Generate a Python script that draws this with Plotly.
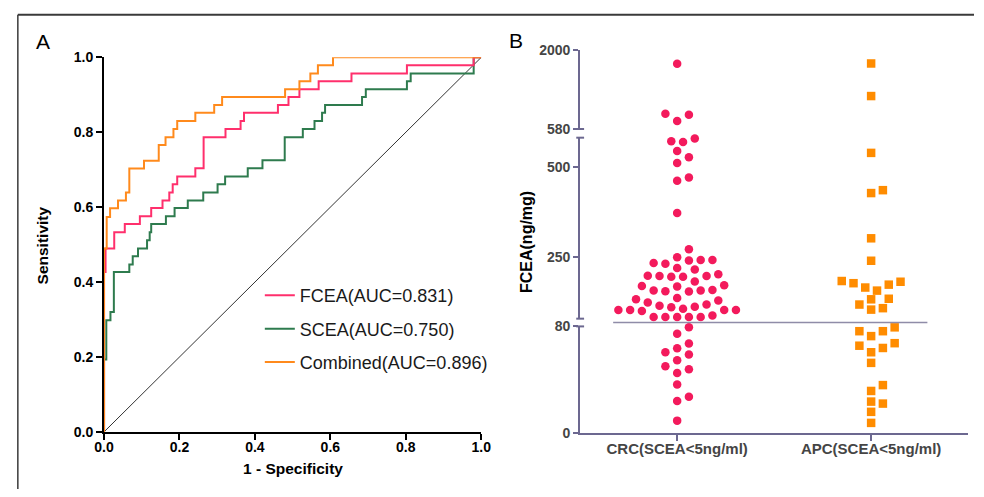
import plotly.graph_objects as go

W, H = 984, 497
FONT = "Liberation Sans, Arial, sans-serif"

# ---------------- data: panel A (ROC step vertices) ----------------
fcea_fpr = [0, 0.004, 0.027, 0.055, 0.095, 0.125, 0.155, 0.173, 0.182, 0.194, 0.242, 0.264,
            0.322, 0.362, 0.371, 0.461, 0.489, 0.518, 0.569, 0.656, 0.803, 0.980, 1.0]
fcea_tpr = [0, 0.427, 0.490, 0.533, 0.555, 0.576, 0.598, 0.618, 0.639, 0.661, 0.682, 0.704,
            0.787, 0.809, 0.830, 0.852, 0.873, 0.894, 0.915, 0.936, 0.957, 0.979, 1.0]

scea_fpr = [0, 0.006, 0.017, 0.026, 0.067, 0.076, 0.090, 0.114, 0.121, 0.125,
            0.164, 0.187, 0.222, 0.263, 0.301, 0.321, 0.381, 0.420, 0.479, 0.527,
            0.558, 0.578, 0.586, 0.684, 0.694, 0.803, 0.813, 0.980, 1.0]
scea_tpr = [0, 0.193, 0.298, 0.320, 0.427, 0.447, 0.469, 0.490, 0.512, 0.533,
            0.555, 0.576, 0.598, 0.618, 0.639, 0.661, 0.682, 0.704, 0.725, 0.787,
            0.809, 0.830, 0.852, 0.873, 0.894, 0.915, 0.936, 0.957, 1.0]

comb_fpr = [0, 0.007, 0.016, 0.037, 0.058, 0.067, 0.106, 0.145, 0.163, 0.184, 0.194,
            0.242, 0.292, 0.313, 0.480, 0.518, 0.547, 0.567, 0.607, 1.0]
comb_tpr = [0, 0.490, 0.574, 0.597, 0.618, 0.639, 0.703, 0.724, 0.766, 0.787, 0.809,
            0.830, 0.852, 0.873, 0.894, 0.915, 0.936, 0.957, 0.979, 1.0]

roc_names = ["FCEA(AUC=0.831)", "SCEA(AUC=0.750)", "Combined(AUC=0.896)"]
roc_ticks = [0.0, 0.2, 0.4, 0.6, 0.8, 1.0]

# ---------------- data: panel B (FCEA, ng/mg) ----------------
groups = ["CRC(SCEA<5ng/ml)", "APC(SCEA<5ng/ml)"]
crc_fcea = [1746, 852, 834, 724, 578, 570, 568, 543, 526, 510, 470, 461, 372, 272,
            250, 242, 242, 241, 234, 232, 220, 216, 203, 198.5, 198, 198, 196, 196,
            183, 172, 170, 169, 159, 157.5, 157.5, 156, 155, 137, 133.5, 130, 124.6,
            119.3, 115.6, 113, 111.3, 107.6, 104, 104, 104, 104, 101.4, 88.8,
            84.5, 84.5, 84.5, 84.5, 84.5, 79.3, 74.4, 67.1, 63.5, 60.6, 58.9, 54.5,
            50, 47.8, 44.9, 36.4, 27.1, 24, 9.2]
apc_fcea = [1752, 1169, 538, 435, 427, 302, 240, 184, 182, 178, 174, 166, 157.5, 135,
            133.5, 119, 109, 105, 79.3, 76.4, 76.4, 72.7, 67.4, 65.5, 63.8, 60.6, 52.6,
            35.9, 31.5, 23.5, 22, 15.8, 7.5]
seg_ranges = [(0, 80), (80, 580), (580, 2000)]
seg_ticks = [[0, 80], [250, 500], [580, 2000]]

# ---------------- layout constants (pixels) ----------------
XA = (96, 481); YA = (51, 438)            # panel A plot box (left,right) (top,bottom)
XB = (582, 978)                           # panel B x extent
SEG_PX = [(439, 329), (321, 134), (125, 43)]   # (bottom, top) of each y segment
CUT_PY = 325
CUT_SPAN = (-0.33, 1.29)
XB_RANGE = (-0.5, 1.5)

def fx(p):
    return p / W

def fy(p):
    return 1 - p / H

C_PINK = "#FF2F6C"
C_GREEN = "#2E7B4E"
C_ORANGE = "#FF8A1C"
C_DOT = "#F31A5C"
C_SQ = "#FF8C00"
C_AX_B = "#6C6890"
C_TXT_B = "#454545"

fig = go.Figure()

# diagonal reference
fig.add_trace(go.Scatter(x=[0, 1], y=[0, 1], mode="lines", line=dict(color="#333333", width=1),
                         showlegend=False, hoverinfo="skip"))
# ROC curves
roc = [(scea_fpr, scea_tpr, C_GREEN, roc_names[1], 2),
       (fcea_fpr, fcea_tpr, C_PINK, roc_names[0], 1),
       (comb_fpr, comb_tpr, C_ORANGE, roc_names[2], 3)]
for xs, ys, col, nm, rk in roc:
    fig.add_trace(go.Scatter(x=xs, y=ys, mode="lines", line=dict(color=col, width=2, shape="vh"),
                             name=nm, legendrank=rk, legendgroup=nm))

# ---------------- panel B swarm ----------------
def seg_index(v):
    if v < seg_ranges[0][1]:
        return 0
    if v <= seg_ranges[1][1]:
        return 1
    return 2

def value_py(v):
    i = seg_index(v)
    lo, hi = seg_ranges[i]
    b, t = SEG_PX[i]
    return b - (v - lo) / (hi - lo) * (b - t)

def swarm(values, step=6.0, dmin=10.5):
    order = sorted(range(len(values)), key=lambda i: values[i])
    cands = [0]
    for n in range(1, 60):
        cands += [n, -n]
    placed = []
    offs = [0.0] * len(values)
    for i in order:
        y = value_py(values[i])
        x = 0.0
        for c in cands:
            x = c * step
            if all((x - px) ** 2 + (y - py) ** 2 >= dmin ** 2 for px, py in placed):
                break
        placed.append((x, y))
        offs[i] = x
    return offs

px_per_unit = (XB[1] - XB[0]) / (XB_RANGE[1] - XB_RANGE[0])
yaxes_b = ["y2", "y3", "y4"]
for gi, (vals, col, sym) in enumerate([(crc_fcea, C_DOT, "circle"), (apc_fcea, C_SQ, "square")]):
    offs = swarm(vals)
    for si in range(3):
        xs = [gi + o / px_per_unit for v, o in zip(vals, offs) if seg_index(v) == si]
        ys = [v for v in vals if seg_index(v) == si]
        fig.add_trace(go.Scatter(x=xs, y=ys, xaxis="x2", yaxis=yaxes_b[si], mode="markers",
                                 marker=dict(color=col, size=8.5, symbol=sym, line=dict(width=0)),
                                 cliponaxis=False, showlegend=False, hoverinfo="skip"))

tickfontA = dict(family=FONT, size=14, color="black", weight="bold")
tickfontB = dict(family=FONT, size=14, color=C_TXT_B, weight="bold")

axA = dict(ticks="outside", ticklen=6, tickwidth=2, tickcolor="black", showline=True,
           linecolor="black", linewidth=2, showgrid=False, zeroline=False, tickfont=tickfontA,
           layer="below traces", tickvals=roc_ticks, ticktext=[f"{t:.1f}" for t in roc_ticks],
           range=[0, 1], fixedrange=True)

layout = dict(
    width=W, height=H, margin=dict(l=0, r=0, t=0, b=0),
    paper_bgcolor="white", plot_bgcolor="rgba(0,0,0,0)",
    legend=dict(x=fx(255), y=fy(278), xanchor="left", yanchor="top",
                font=dict(family=FONT, size=18, color="#1a1a1a"),
                bgcolor="rgba(0,0,0,0)", traceorder="grouped", tracegroupgap=7),
    xaxis=dict(axA, domain=[fx(XA[0]), fx(XA[1])], anchor="y", ticklabelstandoff=-5),
    yaxis=dict(axA, domain=[fy(YA[1]), fy(YA[0])], anchor="x"),
    xaxis2=dict(domain=[fx(XB[0]), fx(XB[1])], range=list(XB_RANGE), anchor="y2",
                tickvals=[0, 1], ticktext=groups, ticks="outside", ticklen=6, tickwidth=2,
                tickcolor=C_AX_B, showline=True, linecolor=C_AX_B, linewidth=2,
                showgrid=False, zeroline=False, ticklabelstandoff=-5,
                tickfont=dict(family=FONT, size=15, color=C_TXT_B, weight="bold")),
)
for si, ax in enumerate(["yaxis2", "yaxis3", "yaxis4"]):
    b, t = SEG_PX[si]
    layout[ax] = dict(domain=[fy(b), fy(t)], range=list(seg_ranges[si]), anchor="x2",
                      tickvals=seg_ticks[si], ticktext=[str(v) for v in seg_ticks[si]],
                      ticks="outside", ticklen=5, tickwidth=2, tickcolor=C_AX_B,
                      showline=True, linecolor=C_AX_B, linewidth=2, showgrid=False,
                      zeroline=False, tickfont=tickfontB)
fig.update_layout(**layout)

# break caps on the segmented axis
shapes = []
for py in [SEG_PX[0][1], SEG_PX[1][0], SEG_PX[1][1], SEG_PX[2][0]]:
    shapes.append(dict(type="line", xref="paper", yref="paper", x0=fx(XB[0] - 4), x1=fx(XB[0] + 4),
                       y0=fy(py), y1=fy(py), line=dict(color=C_AX_B, width=2)))
# cutoff line
shapes.append(dict(type="line", xref="x2", yref="paper", x0=CUT_SPAN[0], x1=CUT_SPAN[1],
                   y0=fy(CUT_PY), y1=fy(CUT_PY), line=dict(color="#8F8CA8", width=1.5)))
# outer frame (top & left)
shapes.append(dict(type="line", xref="paper", yref="paper", x0=fx(8), x1=1, y0=fy(7), y1=fy(7),
                   line=dict(color="#3a3a3a", width=2)))
shapes.append(dict(type="line", xref="paper", yref="paper", x0=fx(8), x1=fx(8), y0=fy(7), y1=0,
                   line=dict(color="#3a3a3a", width=1.5)))
fig.update_layout(shapes=shapes)

def ann(text, x, y, size, bold=True, angle=0, color="black"):
    fig.add_annotation(text=text, x=fx(x), y=fy(y), xref="paper", yref="paper", showarrow=False,
                       xanchor="center", yanchor="middle", textangle=angle,
                       font=dict(family=FONT, size=size, color=color,
                                 weight="bold" if bold else "normal"))

ann("1 - Specificity", 288.5, 476, 15.5)
ann("Sensitivity", 33, 245, 15.5, angle=-90)
ann("FCEA(ng/mg)", 526.5, 242, 16, angle=-90)
ann("A", 34, 34.5, 21, bold=False)
ann("B", 516, 33.5, 21, bold=False)

POST = ("document.documentElement.style.margin='0';document.body.style.margin='0';"
        "document.body.style.padding='0';document.body.style.overflow='hidden';"
        "var d=document.getElementById('{plot_id}');d.style.position='absolute';"
        "d.style.left='0px';d.style.top='0px';")
fig.write_html("out.html", post_script=POST, config={"displayModeBar": False})
